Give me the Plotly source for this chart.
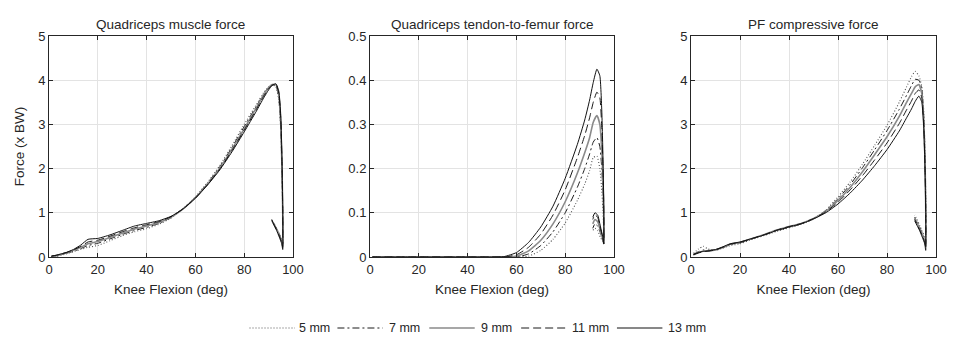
import plotly.graph_objects as go

# Knee flexion path (deg): loading up to ~93 deg, release, and the short return hook
KNEE_FLEXION = [1, 3, 5, 7, 10, 13, 16, 20, 25, 30, 35, 40, 45, 50, 55, 60, 65, 70, 75, 80,
                85, 88, 90, 91.5, 93, 94.2, 95, 95.5, 95.8, 95.8, 95.4, 94.4, 93.3, 92.2, 91.3]

SERIES = ["5 mm", "7 mm", "9 mm", "11 mm", "13 mm"]

# Quadriceps muscle force (x BW)
QUAD_MUSCLE = {
    "5 mm":  [0.0, 0.01, 0.04, 0.07, 0.12, 0.17, 0.22, 0.26, 0.37, 0.48, 0.57, 0.64, 0.74, 0.88, 1.1, 1.36, 1.69,
              2.07, 2.52, 3.0, 3.45, 3.72, 3.85, 3.9, 3.85,
              3.55, 2.9, 1.9, 0.9, 0.3, 0.4, 0.52, 0.65, 0.75, 0.8],
    "7 mm":  [0.01, 0.03, 0.05, 0.08, 0.13, 0.19, 0.26, 0.31, 0.41, 0.51, 0.6, 0.67, 0.76, 0.89, 1.1, 1.35, 1.67,
              2.04, 2.48, 2.95, 3.41, 3.69, 3.84, 3.9, 3.88,
              3.6, 2.95, 1.95, 0.95, 0.28, 0.38, 0.5, 0.64, 0.75, 0.83],
    "9 mm":  [0.01, 0.03, 0.06, 0.09, 0.15, 0.22, 0.3, 0.35, 0.44, 0.54, 0.63, 0.7, 0.78, 0.9, 1.09, 1.34, 1.65,
              2.01, 2.44, 2.9, 3.38, 3.67, 3.83, 3.9, 3.9,
              3.65, 3.0, 2.0, 1.0, 0.25, 0.35, 0.5, 0.63, 0.75, 0.82],
    "11 mm": [0.02, 0.04, 0.07, 0.1, 0.16, 0.24, 0.34, 0.38, 0.47, 0.57, 0.66, 0.73, 0.8, 0.91, 1.09, 1.33, 1.64,
              1.99, 2.41, 2.87, 3.34, 3.64, 3.81, 3.89, 3.91,
              3.7, 3.1, 2.1, 1.05, 0.22, 0.33, 0.48, 0.62, 0.74, 0.85],
    "13 mm": [0.02, 0.04, 0.07, 0.1, 0.17, 0.27, 0.4, 0.42, 0.5, 0.6, 0.7, 0.76, 0.82, 0.92, 1.09, 1.33, 1.63,
              1.97, 2.38, 2.83, 3.3, 3.6, 3.78, 3.88, 3.92,
              3.75, 3.2, 2.2, 1.1, 0.17, 0.3, 0.45, 0.6, 0.72, 0.85],
}

# Quadriceps tendon-to-femur force (x BW)
TENDON_FEMUR = {
    "5 mm":  [0.0] * 16 + [0.002, 0.015, 0.04, 0.077, 0.128, 0.165, 0.195, 0.225, 0.228,
                           0.2, 0.15, 0.1, 0.06, 0.03, 0.035, 0.045, 0.06, 0.065, 0.06],
    "7 mm":  [0.0] * 16 + [0.007, 0.026, 0.057, 0.1, 0.158, 0.2, 0.233, 0.26, 0.27,
                           0.25, 0.2, 0.14, 0.08, 0.035, 0.04, 0.055, 0.07, 0.075, 0.065],
    "9 mm":  [0.0] * 15 + [0.002, 0.014, 0.038, 0.075, 0.125, 0.19, 0.236, 0.27, 0.305, 0.32,
                           0.3, 0.24, 0.17, 0.1, 0.03, 0.04, 0.06, 0.08, 0.085, 0.075],
    "11 mm": [0.0] * 15 + [0.005, 0.022, 0.052, 0.095, 0.152, 0.225, 0.275, 0.315, 0.35, 0.373,
                           0.36, 0.29, 0.2, 0.11, 0.03, 0.045, 0.065, 0.09, 0.095, 0.085],
    "13 mm": [0.0] * 14 + [0.001, 0.01, 0.033, 0.068, 0.115, 0.178, 0.255, 0.31, 0.355, 0.395, 0.425,
                           0.41, 0.33, 0.22, 0.12, 0.03, 0.045, 0.07, 0.095, 0.1, 0.09],
}

# Patellofemoral compressive force (x BW)
PF_COMPRESSIVE = {
    "5 mm":  [0.08, 0.18, 0.24, 0.18, 0.15, 0.2, 0.26, 0.3, 0.4, 0.49, 0.58, 0.66, 0.74, 0.86, 1.06, 1.36, 1.7,
              2.1, 2.53, 2.98, 3.5, 3.85, 4.08, 4.2, 4.1,
              3.85, 3.3, 2.4, 1.4, 0.35, 0.45, 0.58, 0.72, 0.85, 0.95],
    "7 mm":  [0.06, 0.12, 0.16, 0.15, 0.16, 0.21, 0.28, 0.32, 0.41, 0.5, 0.6, 0.67, 0.75, 0.87, 1.05, 1.32, 1.64,
              2.02, 2.43, 2.86, 3.34, 3.66, 3.88, 4.02, 4.0,
              3.8, 3.2, 2.3, 1.3, 0.3, 0.4, 0.53, 0.68, 0.8, 0.9],
    "9 mm":  [0.05, 0.1, 0.13, 0.14, 0.16, 0.22, 0.29, 0.33, 0.42, 0.51, 0.61, 0.69, 0.76, 0.87, 1.03, 1.28, 1.58,
              1.93, 2.32, 2.72, 3.18, 3.5, 3.7, 3.85, 3.9,
              3.7, 3.1, 2.2, 1.2, 0.25, 0.37, 0.5, 0.65, 0.78, 0.88],
    "11 mm": [0.05, 0.09, 0.12, 0.13, 0.16, 0.22, 0.29, 0.33, 0.42, 0.51, 0.61, 0.69, 0.76, 0.87, 1.02, 1.24, 1.52,
              1.84, 2.2, 2.58, 3.02, 3.33, 3.53, 3.7, 3.78,
              3.6, 3.0, 2.1, 1.1, 0.2, 0.33, 0.48, 0.62, 0.75, 0.85],
    "13 mm": [0.06, 0.1, 0.13, 0.14, 0.17, 0.23, 0.3, 0.34, 0.42, 0.5, 0.6, 0.68, 0.75, 0.86, 1.0, 1.2, 1.45,
              1.74, 2.07, 2.43, 2.85, 3.15, 3.35, 3.52, 3.64,
              3.5, 2.9, 2.0, 1.0, 0.15, 0.3, 0.45, 0.6, 0.72, 0.82],
}

PANELS = [
    ("Quadriceps muscle force", QUAD_MUSCLE, 5, 1),
    ("Quadriceps tendon-to-femur force", TENDON_FEMUR, 0.5, 0.1),
    ("PF compressive force", PF_COMPRESSIVE, 5, 1),
]

STYLES = {
    "5 mm":  dict(color="#555555", width=1.1, dash="1px,2px"),
    "7 mm":  dict(color="#1a1a1a", width=1.0, dash="7px,3px,2px,3px"),
    "9 mm":  dict(color="#8a8a8a", width=1.6, dash="solid"),
    "11 mm": dict(color="#1a1a1a", width=1.0, dash="8px,4px"),
    "13 mm": dict(color="#111111", width=1.0, dash="solid"),
}

FONT = "Liberation Sans, Arial, Helvetica, sans-serif"
INK = "#262626"

W, H = 955, 338
ML, MR, MT, MB = 49, 8, 36, 81
PW = W - ML - MR
PH = H - MT - MB
DOMAINS = [(0.0, 247 / PW), ((374 - ML) / PW, (621 - ML) / PW), ((699 - ML) / PW, 1.0)]

fig = go.Figure()
layout = {}
annotations = []

for i, (title, data, ymax, ystep) in enumerate(PANELS):
    n = "" if i == 0 else str(i + 1)
    for name in SERIES:
        fig.add_trace(go.Scatter(
            x=KNEE_FLEXION, y=data[name], mode="lines", name=name,
            line=dict(shape="spline", smoothing=0.5, **STYLES[name]),
            xaxis="x" + n, yaxis="y" + n, showlegend=False,
        ))
    axis_common = dict(
        showline=True, linecolor=INK, linewidth=1, mirror="ticks",
        ticks="inside", ticklen=4, tickcolor=INK, tickwidth=1,
        showgrid=True, gridcolor="#e3e3e3", gridwidth=1, zeroline=False,
        tickfont=dict(family=FONT, size=13, color=INK),
    )
    layout["xaxis" + n] = dict(
        domain=list(DOMAINS[i]), anchor="y" + n, range=[0, 100], dtick=20, tick0=0,
        title=dict(text="Knee Flexion (deg)", font=dict(family=FONT, size=13.5, color=INK), standoff=8),
        **axis_common,
    )
    layout["yaxis" + n] = dict(
        domain=[0, 1], anchor="x" + n, range=[0, ymax], dtick=ystep, tick0=0,
        **axis_common,
    )
    if i == 0:
        layout["yaxis"]["title"] = dict(text="Force (x BW)", font=dict(family=FONT, size=13.5, color=INK),
                                        standoff=10)
    annotations.append(dict(
        text=title, xref="paper", yref="paper", x=sum(DOMAINS[i]) / 2, y=1,
        yshift=2, xanchor="center", yanchor="bottom", showarrow=False,
        font=dict(family=FONT, size=13.5, color=INK),
    ))

# Legend row drawn as line samples with labels
LEGEND_LINE_X = [252, 341, 434, 527, 624]
LEGEND_TEXT_X = [300, 391, 484, 576, 674]
LEGEND_Y = 328
shapes = []
ly = (H - MB - LEGEND_Y) / PH
for name, lx, tx in zip(SERIES, LEGEND_LINE_X, LEGEND_TEXT_X):
    st = STYLES[name]
    shapes.append(dict(
        type="line", xref="paper", yref="paper",
        x0=(lx - ML) / PW, x1=(lx + 46 - ML) / PW, y0=ly, y1=ly,
        line=dict(color=st["color"], width=st["width"], dash=st["dash"]),
    ))
    annotations.append(dict(
        text=name, xref="paper", yref="paper", x=(tx - ML) / PW, y=ly,
        xanchor="left", yanchor="middle", showarrow=False,
        font=dict(family=FONT, size=12.5, color=INK),
    ))

fig.update_layout(
    width=W, height=H, margin=dict(l=ML, r=MR, t=MT, b=MB),
    paper_bgcolor="white", plot_bgcolor="white",
    annotations=annotations, shapes=shapes, **layout,
)

fig.write_html("out.html", include_plotlyjs=True, config={"displayModeBar": False})
